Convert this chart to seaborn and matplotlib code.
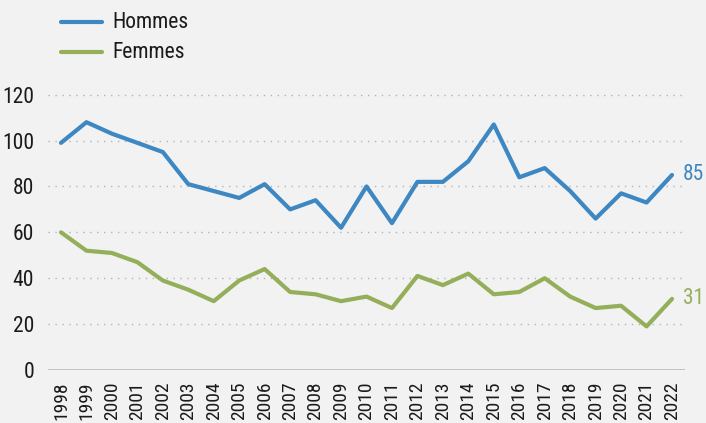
import matplotlib
matplotlib.use("Agg")
import matplotlib.pyplot as plt
import seaborn as sns
import pandas as pd

years = list(range(1998, 2023))
hommes = [99, 108, 103, 99, 95, 81, 78, 75, 81, 70, 74, 62, 80, 64, 82, 82, 91, 107, 84, 88, 78, 66, 77, 73, 85]
femmes = [60, 52, 51, 47, 39, 35, 30, 39, 44, 34, 33, 30, 32, 27, 41, 37, 42, 33, 34, 40, 32, 27, 28, 19, 31]
series_names = ["Hommes", "Femmes"]
y_ticks = [0, 20, 40, 60, 80, 100, 120]

BLUE = "#3d87c2"
GREEN = "#95ae5a"
BG = "#f2f2f2"
TEXT = "#1a1a1a"

sns.set_theme(style="white")
plt.rcParams["font.family"] = ["Roboto Condensed", "Sofia Sans Condensed",
                               "Encode Sans Condensed", "DejaVu Sans"]

df = pd.DataFrame({
    "annee": years * 2,
    "valeur": hommes + femmes,
    "serie": [series_names[0]] * len(years) + [series_names[1]] * len(years),
})

fig = plt.figure(figsize=(7.06, 4.23), dpi=100, facecolor=BG)
ax = fig.add_axes([48 / 706, 1 - 370 / 423, (685 - 48) / 706, (370 - 85.5) / 423])
ax.set_facecolor(BG)

sns.lineplot(data=df, x="annee", y="valeur", hue="serie",
             palette={"Hommes": BLUE, "Femmes": GREEN},
             linewidth=3.0, ax=ax, legend=False, zorder=3)

ax.set_xlim(years[0] - 0.51, years[-1] + 0.51)
ax.set_ylim(0, 124)
ax.set_yticks(y_ticks)
ax.set_yticklabels([str(t) for t in y_ticks])
ax.set_xticks(years)
ax.set_xticklabels([str(y) for y in years], rotation=90, va="top")
ax.tick_params(axis="both", length=0, colors=TEXT, labelsize=15.5)
ax.tick_params(axis="x", pad=8, labelsize=14)
ax.tick_params(axis="y", pad=10)
ax.set_xlabel("")
ax.set_ylabel("")

for t in y_ticks[1:]:
    ax.axhline(t, color="#b3b3b3", linewidth=1.0, linestyle=(0, (1, 4)), zorder=1)
ax.axhline(0, color="#bfbfbf", linewidth=2.0, zorder=2)

for s in ax.spines.values():
    s.set_visible(False)

# end-of-series values
ax.annotate(str(hommes[-1]), xy=(years[-1], hommes[-1]), xytext=(8, 0),
            textcoords="offset points", color=BLUE, fontsize=15.5,
            va="center", ha="left", annotation_clip=False)
ax.annotate(str(femmes[-1]), xy=(years[-1], femmes[-1]), xytext=(8, 0),
            textcoords="offset points", color=GREEN, fontsize=15.5,
            va="center", ha="left", annotation_clip=False)

# legend
for i, (name, col) in enumerate(zip(series_names, [BLUE, GREEN])):
    yy = 1 - (22 + 30 * i) / 423
    fig.add_artist(plt.Line2D([61 / 706, 102 / 706], [yy, yy], color=col,
                              linewidth=3.0, solid_capstyle="round",
                              transform=fig.transFigure))
    fig.text(112 / 706, yy, name, color=TEXT, fontsize=15.5, va="center", ha="left")

fig.savefig("out.png", dpi=100, facecolor=BG)
